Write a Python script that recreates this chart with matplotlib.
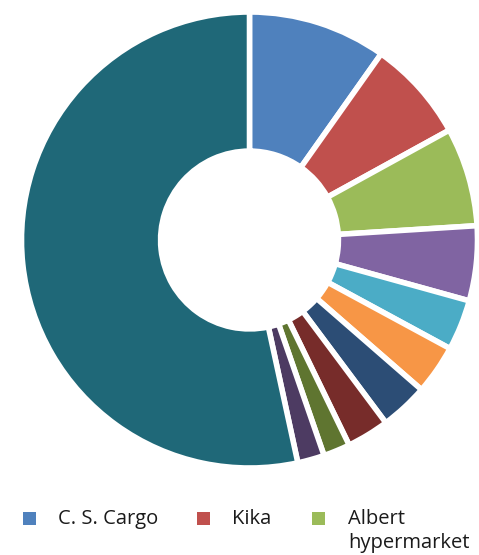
import matplotlib
matplotlib.use("Agg")
import matplotlib.pyplot as plt
from matplotlib.patches import Rectangle

# data (% of total, clockwise from 12 o'clock)
shares = [9.8, 7.2, 7.0, 5.3, 3.6, 3.5, 3.4, 3.0, 1.9, 1.9, 53.4]
colors = ['#4F81BD', '#C0504D', '#9BBB59', '#8064A2', '#4BACC6', '#F79646',
          '#2C4D75', '#772C2A', '#5F7530', '#4D3B62', '#1F6878']
legend_labels = ['C. S. Cargo', 'Kika', 'Albert\nhypermarket']

W, H = 479, 555
fig = plt.figure(figsize=(W / 100, H / 100), dpi=100)
plt.rcParams['font.family'] = ['Open Sans', 'DejaVu Sans']

# pie centre (249.5, 240) px from top, radius 228 px
cx, cy, r = 249.5, 240, 228
ax = fig.add_axes([(cx - r) / W, (H - cy - r) / H, 2 * r / W, 2 * r / H])
ax.pie(shares, colors=colors, startangle=90, counterclock=False,
       radius=1.0,
       wedgeprops=dict(width=0.61, edgecolor='white', linewidth=4))
ax.set_xlim(-1, 1)
ax.set_ylim(-1, 1)
ax.set_aspect('equal')
ax.axis('off')

# legend, only the first three entries are visible
sq_x = [23, 197, 312]
txt_x = [58, 232, 348]
for i, lab in enumerate(legend_labels):
    fig.patches.append(Rectangle((sq_x[i] / W, (H - 525) / H), 13 / W, 13 / H,
                                 transform=fig.transFigure,
                                 facecolor=colors[i], edgecolor='none'))
    for j, line in enumerate(lab.split('\n')):
        fig.text(txt_x[i] / W, (H - 524 - 24 * j) / H, line, fontsize=14.5,
                 color='#1a1a1a', ha='left', va='baseline')

fig.savefig('out.png', dpi=100)
